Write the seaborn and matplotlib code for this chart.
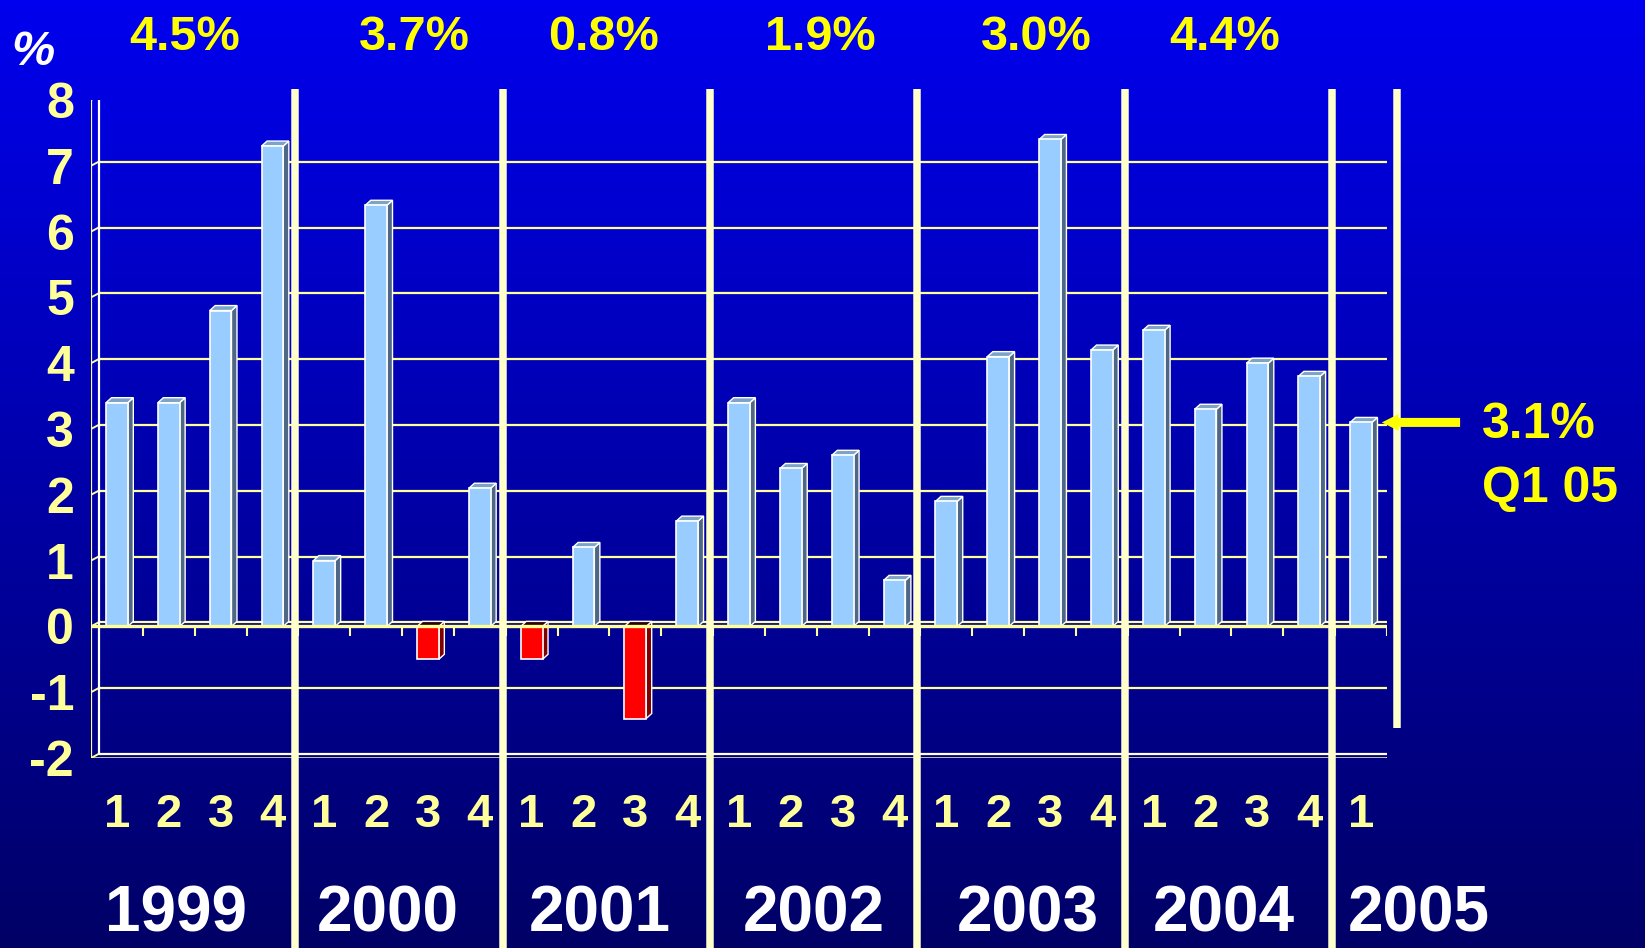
import numpy as np
import pandas as pd
import matplotlib
matplotlib.use("Agg")
import matplotlib.pyplot as plt
import seaborn as sns
from matplotlib.patches import Polygon
from matplotlib.colors import LinearSegmentedColormap
from matplotlib.transforms import blended_transform_factory

# ---------------- data ----------------
years = ["1999", "2000", "2001", "2002", "2003", "2004", "2005"]
quarters_per_year = [4, 4, 4, 4, 4, 4, 1]
growth = [3.4, 3.4, 4.8, 7.3,
          1.0, 6.4, -0.5, 2.1,
          -0.5, 1.2, -1.4, 1.6,
          3.4, 2.4, 2.6, 0.7,
          1.9, 4.1, 7.4, 4.2,
          4.5, 3.3, 4.0, 3.8,
          3.1]
annual_growth_labels = ["4.5%", "3.7%", "0.8%", "1.9%", "3.0%", "4.4%"]
y_ticks = [-2, -1, 0, 1, 2, 3, 4, 5, 6, 7, 8]
latest_label = ["3.1%", "Q1 05"]
latest_value = 3.1

# ---------------- style / layout ----------------
sns.set_style("white")
plt.rcParams["font.family"] = ["Liberation Sans", "DejaVu Sans"]
plt.rcParams["font.weight"] = "bold"
plt.rcParams["axes.unicode_minus"] = False

CREAM = "#FFFF99"
SEP = "#FFFFCC"
YELLOW = "#FFFF00"
W, H = 1645, 948

fig = plt.figure(figsize=(W / 100, H / 100), dpi=100)

# gradient background
bg = fig.add_axes([0, 0, 1, 1], zorder=-10)
cmap = LinearSegmentedColormap.from_list("bg", ["#000066", "#0000EE"])
bg.imshow(np.linspace(0, 1, 256).reshape(-1, 1), aspect="auto", cmap=cmap,
          origin="lower", extent=[0, 1, 0, 1])
bg.set_axis_off()

# front plane of the chart
left_px, right_px, top_px, bottom_px = 91, 1387, 100, 758
ax = fig.add_axes([left_px / W, 1 - bottom_px / H,
                   (right_px - left_px) / W, (bottom_px - top_px) / H], zorder=1)
ax.patch.set_alpha(0)

labels, qnums = [], []
for y, n in zip(years, quarters_per_year):
    for q in range(1, n + 1):
        labels.append(f"{y} Q{q}")
        qnums.append(str(q))
df = pd.DataFrame({"label": labels, "value": growth})
df["sign"] = np.where(df["value"] < 0, "neg", "pos")
n = len(df)

sns.barplot(data=df, x="label", y="value", hue="sign",
            palette={"pos": "#99CCFF", "neg": "#FF0000"}, dodge=False, saturation=1,
            width=0.42, edgecolor="white", linewidth=1.2, errorbar=None,
            legend=False, ax=ax, zorder=4)

ax.set_xlim(-0.5, n - 0.5)
ax.set_ylim(-2, 8)
for s in ax.spines.values():
    s.set_visible(False)

# pixel -> data conversions
px_x = n / (right_px - left_px)
px_y = 10 / (bottom_px - top_px)
BX, BY = 7.5 * px_x, 4 * px_y          # back wall offset
DX, DY = 5.5 * px_x, 5 * px_y          # bar depth

# 3D faces for bars
for p in list(ax.patches):
    x0, w = p.get_x(), p.get_width()
    y0, h = p.get_y(), p.get_height()
    bot, top = min(y0, y0 + h), max(y0, y0 + h)
    neg = h < 0
    side_c = "#800000" if neg else "#4D6785"
    top_c = "#2A0000" if neg else "#7CA4C6"
    side = Polygon([(x0 + w, bot), (x0 + w + DX, bot + DY),
                    (x0 + w + DX, top + DY), (x0 + w, top)],
                   closed=True, facecolor=side_c, edgecolor="white", lw=1.0, zorder=3.9)
    topf = Polygon([(x0, top), (x0 + DX, top + DY), (x0 + w + DX, top + DY), (x0 + w, top)],
                   closed=True, facecolor=top_c, edgecolor="white", lw=1.0, zorder=3.9)
    ax.add_patch(side)
    ax.add_patch(topf)

# back-wall gridlines
xl, xr = -0.5, n - 0.5
for v in y_ticks:
    col = "white" if v in (y_ticks[0], y_ticks[-1]) else CREAM
    ax.plot([xl + BX, xr + BX], [v + BY, v + BY], color=col, lw=1.6, zorder=1)
    ax.plot([xl, xl + BX], [v, v + BY], color=CREAM, lw=1.4, zorder=1)
ax.plot([xl + BX, xl + BX], [y_ticks[0] + BY, y_ticks[-1] + BY], color="white", lw=1.6, zorder=1)
ax.plot([xr + BX, xr + BX], [y_ticks[0] + BY, y_ticks[-1] + BY], color="white", lw=1.2, zorder=1)
ax.plot([xr, xr + BX], [y_ticks[0], y_ticks[0] + BY], color="white", lw=1.4, zorder=1)
ax.plot([xr, xr + BX], [0, BY], color=CREAM, lw=1.4, zorder=1)

# front axes lines
ax.plot([xl, xl], [y_ticks[0], y_ticks[-1]], color=CREAM, lw=1.6, zorder=2)
ax.plot([xl, xr], [y_ticks[0], y_ticks[0]], color=CREAM, lw=1.8, zorder=2)
ax.plot([xl, xr], [0, 0], color=CREAM, lw=2.4, zorder=5)
bounds = np.arange(n + 1) - 0.5
ax.vlines(bounds[1:], 0, -10 * px_y, color=CREAM, lw=1.5, zorder=5)

# ticks
ax.set_yticks(y_ticks)
ax.set_yticklabels([str(v) for v in y_ticks])
ax.tick_params(axis="y", length=7.2, width=1.5, color=CREAM, labelcolor=CREAM,
               labelsize=36, pad=5.0, direction="out")
ax.set_xticks(np.arange(n))
ax.set_xticklabels(qnums)
ax.set_xticks(bounds, minor=True)
ax.tick_params(axis="x", which="major", length=0, labelcolor=CREAM, labelsize=34, pad=25)
ax.tick_params(axis="x", which="minor", length=7.2, width=1.5, color=CREAM, direction="out")
ax.set_xlabel("")
ax.set_ylabel("")

# year separators
xa = blended_transform_factory(ax.transData, ax.transAxes)
top_ax = (bottom_px - 89) / (bottom_px - top_px)
k = 0
sep_x = []
for cnt in quarters_per_year[:-1]:
    k += cnt
    sep_x.append(k - 0.5 - 0.06)
for sx in sep_x:
    ax.plot([sx, sx], [top_ax, -0.35], color=SEP, lw=5.4, transform=xa,
            clip_on=False, zorder=6, solid_capstyle="butt")
last_x = n - 0.5 + 0.19
ax.plot([last_x, last_x], [top_ax, (bottom_px - 728) / (bottom_px - top_px)], color=SEP,
        lw=5.4, transform=xa, clip_on=False, zorder=6, solid_capstyle="butt")

# arrow pointing at latest quarter
ax.annotate("", xy=(n - 0.5 - 0.1, latest_value), xytext=(n - 0.5 + 1.41, latest_value),
            arrowprops=dict(width=6.5, headwidth=12, headlength=12, color=YELLOW, lw=0),
            annotation_clip=False, zorder=7)

# ---------------- text ----------------
def ftext(xpx, ypx, s, **kw):
    fig.text(xpx / W, 1 - ypx / H, s, **kw)

ftext(33, 65, "%", color="white", fontsize=35, style="italic", ha="center", va="baseline")

annual_x_px = [185, 414, 604, 820, 1036, 1225]
for x, s in zip(annual_x_px, annual_growth_labels):
    ftext(x, 50, s, color=YELLOW, fontsize=35, ha="center", va="baseline")

year_x_px = [176, 388, 600, 814, 1028, 1224, 1419]
for x, s in zip(year_x_px, years):
    ftext(x, 931, s, color="white", fontsize=46, ha="center", va="baseline")

ftext(1482, 438, latest_label[0], color=YELLOW, fontsize=36, ha="left", va="baseline")
ftext(1482, 502, latest_label[1], color=YELLOW, fontsize=36, ha="left", va="baseline")

fig.savefig("out.png", dpi=100)
